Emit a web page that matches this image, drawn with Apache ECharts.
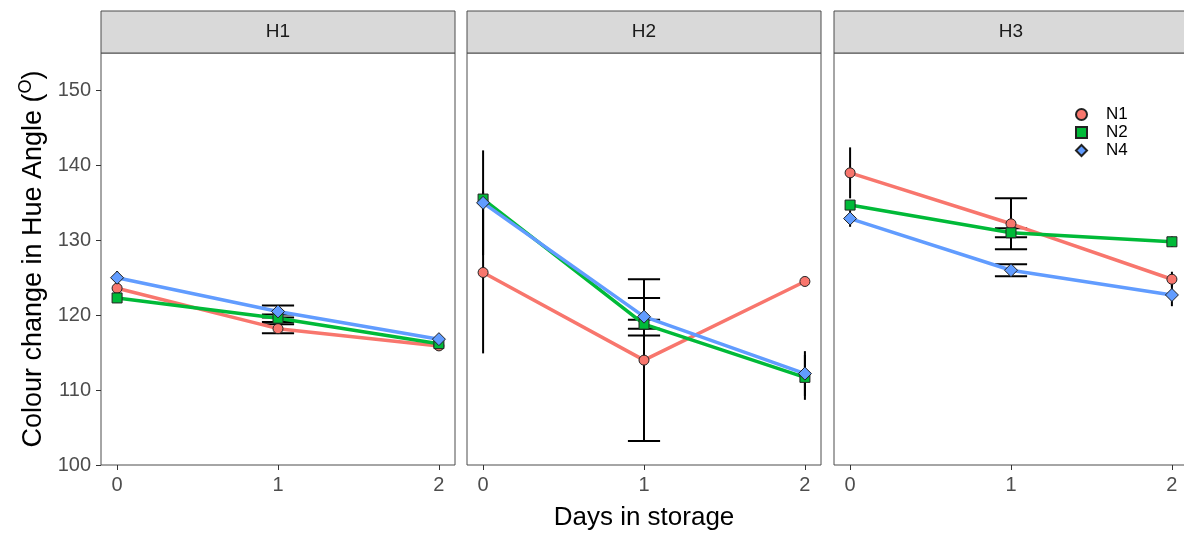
<!DOCTYPE html>
<html>
<head>
<meta charset="utf-8">
<script src="https://cdn.jsdelivr.net/npm/echarts@6/dist/echarts.min.js"></script>
<style>
  html, body { margin: 0; background: #fff; }
  #chart { width: 1184px; height: 534px; }
</style>
</head>
<body>
<div id="chart"></div>
<script>
// data
var panels = ['H1', 'H2', 'H3'];
var groups = ['N1', 'N2', 'N4'];
var days = [0, 1, 2];
var yTicks = [100, 110, 120, 130, 140, 150];
var capDays = [1]; // only the middle error bars have caps

// means per panel (H1, H2, H3), each over days 0,1,2
var n1Mean = [[123.6, 118.2, 115.9], [125.7, 114.0, 124.5], [139.0, 132.2, 124.8]];
var n2Mean = [[122.3, 119.6, 116.2], [135.5, 118.8, 111.7], [134.7, 131.0, 129.8]];
var n4Mean = [[125.0, 120.5, 116.8], [135.0, 119.8, 112.2], [132.9, 126.0, 122.7]];
// standard errors
var n1Se = [[0.5, 0.6, 0.4], [10.8, 10.8, 0.4], [3.4, 3.4, 1.0]];
var n2Se = [[0.6, 0.5, 0.4], [0.5, 0.6, 3.0], [0.5, 0.6, 0.7]];
var n4Se = [[0.9, 0.8, 0.5], [7.0, 2.5, 3.0], [1.1, 0.8, 1.5]];

var means = [n1Mean, n2Mean, n4Mean];
var ses = [n1Se, n2Se, n4Se];
var colors = ['#F8766D', '#00BA38', '#619CFF'];
var symbols = ['circle', 'rect', 'diamond'];
var symbolSizes = [10, 10, 13];

var font = 'Liberation Sans';
var lefts = [101, 467, 834];
var panelW = 354, panelTop = 53, panelH = 412;

var chart = echarts.init(document.getElementById('chart'));

var grids = [], xAxes = [], yAxes = [], series = [], graphics = [];

panels.forEach(function (p, i) {
    grids.push({
        left: lefts[i], top: panelTop, width: panelW, height: panelH,
        outerBoundsMode: 'none', containLabel: false,
        show: true, borderColor: '#4d4d4d', borderWidth: 1, backgroundColor: '#fff'
    });
    xAxes.push({
        type: 'value', gridIndex: i, min: -0.1, max: 2.1,
        axisLine: { show: false, onZero: false },
        splitLine: { show: false },
        axisTick: { show: true, length: 5, customValues: days, lineStyle: { color: '#333' } },
        axisLabel: { customValues: days, color: '#4d4d4d', fontSize: 20, fontFamily: font, margin: 10 },
        name: i === 1 ? 'Days in storage' : '',
        nameLocation: 'middle', nameGap: 40,
        nameTextStyle: { fontSize: 26, fontFamily: font, color: '#000' }
    });
    yAxes.push({
        type: 'value', gridIndex: i, min: 100, max: 155,
        axisLine: { show: false, onZero: false },
        splitLine: { show: false },
        axisTick: { show: i === 0, length: 5, customValues: yTicks, lineStyle: { color: '#333' } },
        axisLabel: { show: i === 0, customValues: yTicks, color: '#4d4d4d', fontSize: 20, fontFamily: font, margin: 10 },
        name: i === 0 ? '{a|Colour change in Hue Angle (}{s|O}{a|)}' : '',
        nameLocation: 'middle', nameGap: 50,
        nameTextStyle: {
            fontFamily: font, color: '#000',
            rich: {
                a: { fontSize: 27, fontFamily: font, color: '#000', lineHeight: 34 },
                s: { fontSize: 18, fontFamily: font, color: '#000', verticalAlign: 'top', lineHeight: 34 }
            }
        }
    });

    // facet strip
    graphics.push({
        type: 'rect', z: 10,
        shape: { x: lefts[i], y: 11, width: panelW, height: 42 },
        style: { fill: '#d9d9d9', stroke: '#4d4d4d', lineWidth: 1 }
    });
    graphics.push({
        type: 'text', z: 11,
        style: {
            text: p, x: lefts[i] + panelW / 2, y: 32,
            textAlign: 'center', verticalAlign: 'middle',
            fontSize: 19, fontFamily: font, fill: '#1a1a1a'
        }
    });

    // error bars
    groups.forEach(function (g, k) {
        var ebData = days.map(function (d, j) {
            var m = means[k][i][j], s = ses[k][i][j];
            return [d, m - s, m + s];
        });
        series.push({
            type: 'custom', name: g + ' se', xAxisIndex: i, yAxisIndex: i, z: 1,
            silent: true,
            data: ebData,
            renderItem: function (params, api) {
                var d = api.value(0);
                var lo = api.coord([d, api.value(1)]);
                var hi = api.coord([d, api.value(2)]);
                var half = api.size([0.1, 0])[0];
                var style = { stroke: '#000', lineWidth: 2 };
                var children = [{ type: 'line', shape: { x1: lo[0], y1: lo[1], x2: hi[0], y2: hi[1] }, style: style }];
                if (capDays.indexOf(d) >= 0) {
                    children.push({ type: 'line', shape: { x1: lo[0] - half, y1: lo[1], x2: lo[0] + half, y2: lo[1] }, style: style });
                    children.push({ type: 'line', shape: { x1: hi[0] - half, y1: hi[1], x2: hi[0] + half, y2: hi[1] }, style: style });
                }
                return { type: 'group', children: children };
            }
        });
    });

    // lines with points
    groups.forEach(function (g, k) {
        series.push({
            type: 'line', name: g, xAxisIndex: i, yAxisIndex: i, z: 2,
            data: days.map(function (d, j) { return [d, means[k][i][j]]; }),
            symbol: symbols[k], symbolSize: symbolSizes[k],
            showAllSymbol: true,
            lineStyle: { color: colors[k], width: 3.5 },
            itemStyle: { color: colors[k], borderColor: '#222', borderWidth: 1 },
            emphasis: { disabled: true },
            animation: false
        });
    });
});

var option = {
    animation: false,
    backgroundColor: '#fff',
    grid: grids,
    xAxis: xAxes,
    yAxis: yAxes,
    series: series,
    graphic: graphics,
    legend: {
        orient: 'vertical', left: 1070, top: 101,
        itemWidth: 11, itemHeight: 11, itemGap: 1,
        textStyle: { fontSize: 17, fontFamily: font, color: '#000', padding: [0, 0, 0, 14] },
        data: groups.map(function (g, k) {
            return { name: g, icon: symbols[k] };
        })
    }
};

chart.setOption(option);
</script>
</body>
</html>
